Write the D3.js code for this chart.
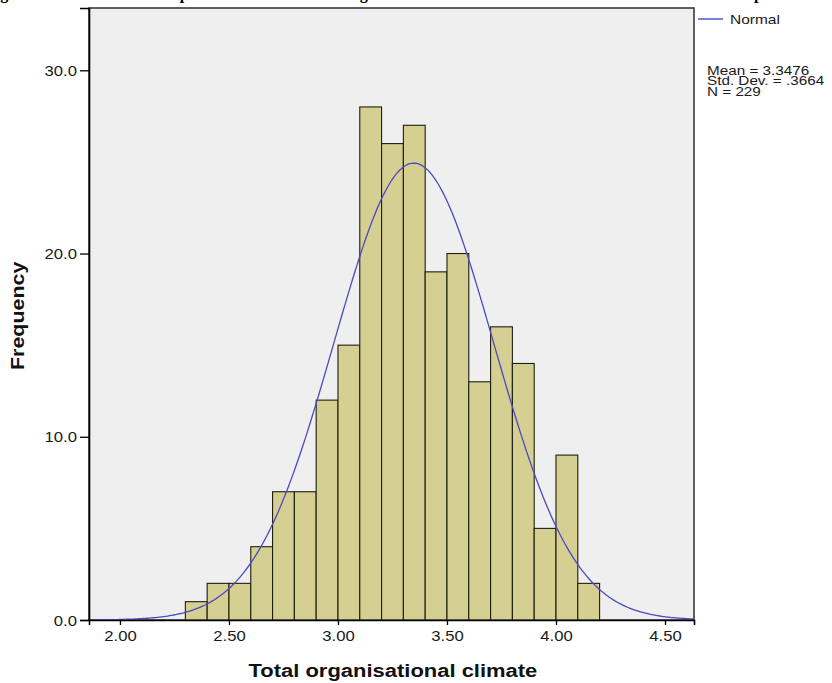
<!DOCTYPE html>
<html>
<head>
<meta charset="utf-8">
<script src="https://cdn.jsdelivr.net/npm/d3@7"></script>
<style>
  body { margin: 0; background: #fff; }
  svg { display: block; font-family: "Liberation Sans", Arial, sans-serif; }
</style>
</head>
<body>
<svg id="histSvg" width="832" height="683"></svg>
<script>
// histogram bins (lower edge) and frequencies
const binStarts = [2.3, 2.4, 2.5, 2.6, 2.7, 2.8, 2.9, 3.0, 3.1, 3.2, 3.3, 3.4, 3.5, 3.6, 3.7, 3.8, 3.9, 4.0, 4.1];
const counts = [1, 2, 2, 4, 7, 7, 12, 15, 28, 26, 27, 19, 20, 13, 16, 14, 5, 9, 2];
const binWidth = 0.1;

// summary shown in the legend
const mean = 3.3476;
const stdDev = 0.3664;
const n = 229;

const xTicks = [2.0, 2.5, 3.0, 3.5, 4.0, 4.5];
const yTicks = [0, 10, 20, 30];

const svg = d3.select("#histSvg");
const margin = { top: 8, right: 138, bottom: 63, left: 89 };
const width = +svg.attr("width");
const height = +svg.attr("height");
const innerWidth = width - margin.left - margin.right;
const innerHeight = height - margin.top - margin.bottom;

const stretchX = 1.19;

// the source picture is widened a bit, so widen the text too
function stretch(sel, k) {
    sel.each(function () {
        const w = this.getComputedTextLength();
        d3.select(this)
            .attr("textLength", w * k)
            .attr("lengthAdjust", "spacingAndGlyphs");
    });
}

function render() {
    const xScale = d3.scaleLinear().domain([1.858, 4.633]).range([0, innerWidth]);
    const yScale = d3.scaleLinear().domain([0, 33.4]).range([innerHeight, 0]);

    // caption of the page above, cut off at the top edge
    svg.append("text")
        .attr("x", -14)
        .attr("y", -0.8)
        .style("font-family", "'Liberation Serif', 'Times New Roman', serif")
        .style("font-weight", "bold")
        .style("font-size", "16px")
        .text("Figure 4.3: The distribution plot of the total score of organisational climate with the normal curve of the test sample");

    const g = svg.append("g").attr("transform", `translate(${margin.left},${margin.top})`);

    g.append("rect")
        .attr("width", innerWidth)
        .attr("height", innerHeight)
        .attr("fill", "#efefef")
        .attr("stroke", "#3a3a3a")
        .attr("stroke-width", 1.6);

    renderBars(g, xScale, yScale);
    renderCurve(g, xScale, yScale);
    renderAxes(g, xScale, yScale);
    renderLegend();
}

function renderBars(g, xScale, yScale) {
    const data = binStarts.map((x0, i) => ({ x0, x1: x0 + binWidth, count: counts[i] }));

    g.selectAll("rect.bar")
        .data(data)
        .enter()
        .append("rect")
        .attr("class", "bar")
        .attr("x", d => xScale(d.x0))
        .attr("width", d => xScale(d.x1) - xScale(d.x0))
        .attr("y", d => yScale(d.count))
        .attr("height", d => yScale(0) - yScale(d.count))
        .attr("fill", "#d5d091")
        .attr("stroke", "#1e1e10")
        .attr("stroke-width", 1.1);
}

function renderCurve(g, xScale, yScale) {
    // normal curve scaled to the histogram, as SPSS draws it
    const scale = n * binWidth / (stdDev * Math.sqrt(2 * Math.PI));
    const [lo, hi] = xScale.domain();
    const pts = d3.range(0, 301).map(i => {
        const x = lo + (hi - lo) * i / 300;
        return [x, scale * Math.exp(-0.5 * ((x - mean) / stdDev) ** 2)];
    });

    g.append("path")
        .datum(pts)
        .attr("fill", "none")
        .attr("stroke", "#4a4ac4")
        .attr("stroke-width", 1.3)
        .attr("d", d3.line().x(d => xScale(d[0])).y(d => yScale(d[1])));
}

function renderAxes(g, xScale, yScale) {
    const xAxis = g.append("g")
        .attr("transform", `translate(0,${innerHeight})`)
        .call(d3.axisBottom(xScale).tickValues(xTicks).tickFormat(d3.format(".2f")).tickSizeOuter(0).tickSize(5).tickPadding(6));

    const yAxis = g.append("g")
        .call(d3.axisLeft(yScale).tickValues(yTicks).tickFormat(d3.format(".1f")).tickSizeOuter(0).tickSize(9).tickPadding(3));

    [xAxis, yAxis].forEach(ax => {
        ax.select(".domain").attr("stroke", "#000").attr("stroke-width", 1.6);
        ax.selectAll(".tick line").attr("stroke", "#000").attr("stroke-width", 1.3);
        ax.selectAll(".tick text")
            .attr("fill", "#1a1a1a")
            .style("font-size", "14px")
            .style("font-family", "'Liberation Sans', Arial, sans-serif")
            .call(stretch, stretchX);
    });
    yAxis.selectAll(".tick text").attr("dy", "0.36em");

    g.append("text")
        .attr("x", xScale(3.252))
        .attr("y", innerHeight + 57)
        .attr("text-anchor", "middle")
        .style("font-size", "18px")
        .style("font-weight", "bold")
        .attr("fill", "#111")
        .text("Total organisational climate")
        .call(stretch, 1.22);

    g.append("text")
        .attr("transform", `translate(-65,${yScale(16.6)}) rotate(-90)`)
        .attr("text-anchor", "middle")
        .style("font-size", "18px")
        .style("font-weight", "bold")
        .attr("fill", "#111")
        .text("Frequency")
        .call(stretch, 1.19);
}

function renderLegend() {
    const lx = margin.left + innerWidth + 4;
    const lg = svg.append("g").attr("transform", `translate(${lx},0)`);

    lg.append("line")
        .attr("x1", 0).attr("x2", 25)
        .attr("y1", 19).attr("y2", 19)
        .attr("stroke", "#4a4ac4")
        .attr("stroke-width", 1.4);

    lg.append("text")
        .attr("x", 32)
        .attr("y", 24)
        .style("font-size", "13px")
        .attr("fill", "#1a1a1a")
        .text("Normal")
        .call(stretch, stretchX);

    const lines = [
        `Mean = ${mean.toFixed(4)}`,
        `Std. Dev. = ${d3.format(".4f")(stdDev).replace(/^0/, "")}`,
        `N = ${n}`
    ];
    lg.selectAll("text.stat")
        .data(lines)
        .enter()
        .append("text")
        .attr("class", "stat")
        .attr("x", 9)
        .attr("y", (d, i) => 75 + i * 10.3)
        .style("font-size", "12.5px")
        .attr("fill", "#1a1a1a")
        .text(d => d)
        .call(stretch, 1.22);
}

render();
</script>
</body>
</html>
